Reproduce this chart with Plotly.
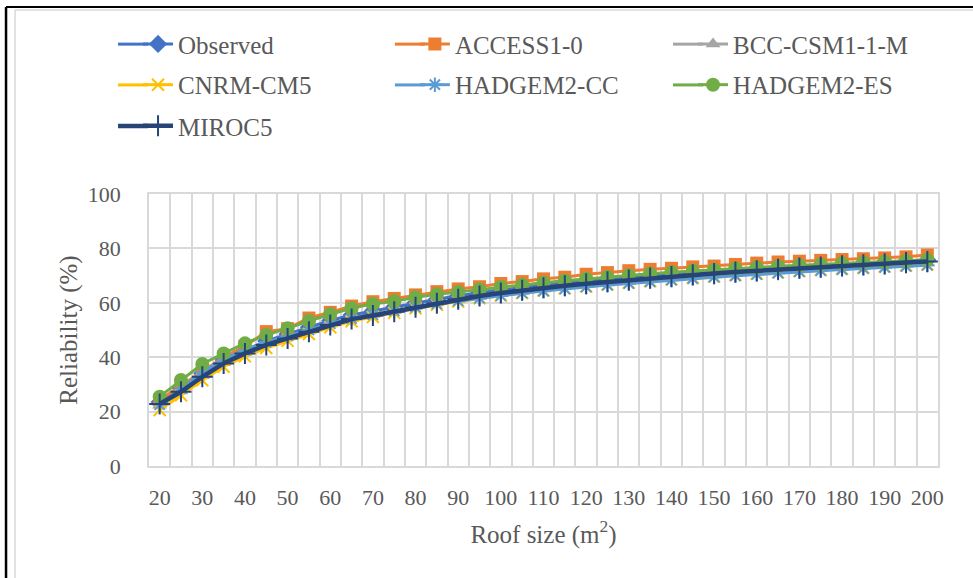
import plotly.graph_objects as go

roof_size = [20, 25, 30, 35, 40, 45, 50, 55, 60, 65, 70, 75, 80, 85, 90, 95, 100, 105, 110,
             115, 120, 125, 130, 135, 140, 145, 150, 155, 160, 165, 170, 175, 180, 185, 190, 195, 200]

observed = [23.5, 28.5, 34.0, 39.0, 42.5, 46.0, 48.5, 51.0, 53.5, 55.5, 57.0, 58.5, 60.0, 61.3,
            62.6, 63.7, 64.7, 65.6, 66.5, 67.3, 68.0, 68.7, 69.4, 70.0, 70.6, 71.1, 71.6, 72.1,
            72.6, 73.0, 73.4, 73.8, 74.2, 74.6, 75.0, 75.3, 75.7]
access1_0 = [24.3, 29.5, 35.0, 40.0, 44.0, 49.4, 50.5, 54.4, 56.5, 58.8, 60.4, 61.6, 62.9, 64.1,
             65.1, 65.9, 67.1, 67.8, 68.8, 69.4, 70.5, 71.1, 71.8, 72.3, 72.7, 73.2, 73.5, 74.1,
             74.6, 75.0, 75.3, 75.6, 75.9, 76.2, 76.5, 76.9, 77.6]
bcc_csm1_1_m = [22.3, 27.6, 33.2, 38.0, 41.8, 45.0, 47.5, 49.9, 52.2, 54.3, 55.7, 57.1, 58.6, 59.9,
                61.2, 62.3, 63.3, 64.2, 65.1, 65.9, 66.6, 67.3, 68.0, 68.6, 69.2, 69.8, 70.3, 70.8,
                71.3, 71.8, 72.2, 72.6, 73.0, 73.4, 73.8, 74.2, 74.6]
cnrm_cm5 = [20.6, 26.0, 31.5, 36.5, 40.3, 43.4, 46.0, 48.5, 51.0, 53.2, 54.8, 56.3, 58.0, 59.3,
            60.5, 61.7, 62.7, 63.6, 64.5, 65.3, 66.0, 66.7, 67.4, 68.0, 68.6, 69.2, 69.7, 70.2,
            70.7, 71.2, 71.7, 72.1, 72.5, 72.9, 73.3, 73.7, 74.1]
hadgem2_cc = [22.5, 28.5, 34.5, 39.5, 42.5, 45.5, 47.8, 50.0, 52.3, 54.2, 55.6, 57.0, 58.4, 59.6,
              60.7, 61.7, 62.6, 63.5, 64.3, 65.1, 65.8, 66.5, 67.1, 67.7, 68.3, 68.9, 69.4, 69.9,
              70.4, 70.9, 71.4, 71.8, 72.2, 72.6, 73.0, 73.4, 73.8]
hadgem2_es = [25.5, 31.6, 37.5, 41.4, 45.1, 48.2, 50.6, 53.3, 55.8, 58.0, 59.6, 60.6, 62.0, 63.1,
              64.0, 64.9, 65.8, 66.6, 67.4, 68.1, 68.8, 69.5, 70.1, 70.7, 71.2, 71.7, 72.1, 72.6,
              73.0, 73.4, 73.8, 74.1, 74.5, 74.8, 75.1, 75.4, 75.8]
miroc5 = [22.8, 27.3, 32.8, 37.7, 41.4, 44.5, 46.9, 49.4, 51.8, 54.0, 55.3, 56.7, 58.4, 59.8,
          61.3, 62.5, 63.6, 64.6, 65.5, 66.3, 67.0, 67.7, 68.4, 69.1, 69.7, 70.3, 70.8, 71.3,
          71.8, 72.3, 72.8, 73.2, 73.6, 74.0, 74.4, 74.8, 75.2]

x_tick_vals = [20, 30, 40, 50, 60, 70, 80, 90, 100, 110, 120, 130, 140, 150, 160, 170, 180, 190, 200]
x_tick_text = [str(v) for v in x_tick_vals]
y_tick_vals = [0, 20, 40, 60, 80, 100]

FONT = "Liberation Serif"
GRAY_TXT = "#595959"
GRID = "#d9d9d9"

# name, values, colour, symbol, marker size
series = [
    ("Observed", observed, "#4472C4", "diamond", 14),
    ("ACCESS1-0", access1_0, "#ED7D31", "square", 13),
    ("BCC-CSM1-1-M", bcc_csm1_1_m, "#A5A5A5", "triangle-up", 13),
    ("CNRM-CM5", cnrm_cm5, "#FFC000", "x-thin-open", 12),
    ("HADGEM2-CC", hadgem2_cc, "#5B9BD5", "asterisk-open", 12),
    ("HADGEM2-ES", hadgem2_es, "#70AD47", "circle", 14),
    ("MIROC5", miroc5, "#264478", "cross-thin-open", 15),
]

# legend slot positions (paper coords), three columns, three rows
leg_x = [-0.0139, 0.337, 0.6895]
leg_y = [1.551, 1.401, 1.250]
PLOT_W, PLOT_H = 789.0, 272.0

fig = go.Figure()
layout_legends = {}
legend_ext = []
for i, (name, vals, color, sym, size) in enumerate(series):
    lname = "legend" if i == 0 else f"legend{i + 1}"
    lw = 4.5 if name == "MIROC5" else 3
    fig.add_trace(go.Scatter(
        x=roof_size, y=vals, name=name, mode="lines+markers",
        line=dict(color=color, width=lw),
        marker=dict(symbol=sym, size=size, color=color,
                    line=dict(color=color, width=2 if "open" in sym else 0)),
        legend=lname,
    ))
    lx, ly = leg_x[i % 3], leg_y[i // 3]
    layout_legends[lname] = dict(
        x=lx, y=ly, xanchor="left", yanchor="middle",
        font=dict(family=FONT, size=25, color=GRAY_TXT),
        bgcolor="rgba(0,0,0,0)", itemwidth=30,
    )
    # lengthen the legend key line to the left, as in the original
    legend_ext.append(dict(type="line", xref="paper", yref="paper",
                           x0=lx - 20 / PLOT_W, x1=lx + 10 / PLOT_W, y0=ly, y1=ly,
                           line=dict(color=color, width=lw)))

# category boundaries for vertical grid lines
x_bounds = [17.5 + 5 * i for i in range(38)]

frame = [
    dict(type="line", xref="paper", yref="paper", x0=-0.1812, x1=1.05, y0=1.6875, y1=1.6875,
         line=dict(color="black", width=2)),
    dict(type="line", xref="paper", yref="paper", x0=-0.1812, x1=-0.1812, y0=1.6875, y1=-0.42,
         line=dict(color="black", width=2.5)),
    dict(type="line", xref="paper", yref="paper", x0=-0.1698, x1=1.05, y0=1.6765, y1=1.6765,
         line=dict(color=GRID, width=1.5)),
    dict(type="line", xref="paper", yref="paper", x0=-0.1698, x1=-0.1698, y0=1.6765, y1=-0.42,
         line=dict(color=GRID, width=1.5)),
]

fig.update_layout(
    width=973, height=578, showlegend=True,
    margin=dict(l=149, r=35, t=194, b=112, autoexpand=False),
    paper_bgcolor="white", plot_bgcolor="white",
    font=dict(family=FONT, color=GRAY_TXT),
    xaxis=dict(range=[17.5, 202.5], tickmode="array", tickvals=x_tick_vals, ticktext=x_tick_text,
               showgrid=False, zeroline=False, ticks="", automargin=False,
               tickfont=dict(family=FONT, size=22, color=GRAY_TXT), ticklabelstandoff=11,
               showline=True, mirror=True, linecolor=GRID, linewidth=1.5,
               minor=dict(tickvals=x_bounds, showgrid=True, gridcolor=GRID, gridwidth=1.5, ticks=""),
               title=dict(text="Roof size (m<sup>2</sup>)", standoff=16,
                          font=dict(family=FONT, size=25, color=GRAY_TXT))),
    yaxis=dict(range=[0, 100], tickvals=y_tick_vals, showgrid=True, gridcolor=GRID, gridwidth=1.5,
               zeroline=False, ticks="", showline=True, mirror=True, linecolor=GRID, linewidth=1.5,
               automargin=False,
               tickfont=dict(family=FONT, size=22, color=GRAY_TXT), ticklabelstandoff=22,
               title=dict(text="Reliability (%)", standoff=3,
                          font=dict(family=FONT, size=25, color=GRAY_TXT))),
    shapes=frame + legend_ext,
    **layout_legends,
)

fig.write_html("out.html", config={"displayModeBar": False},
               post_script="document.body.style.margin='0';")
